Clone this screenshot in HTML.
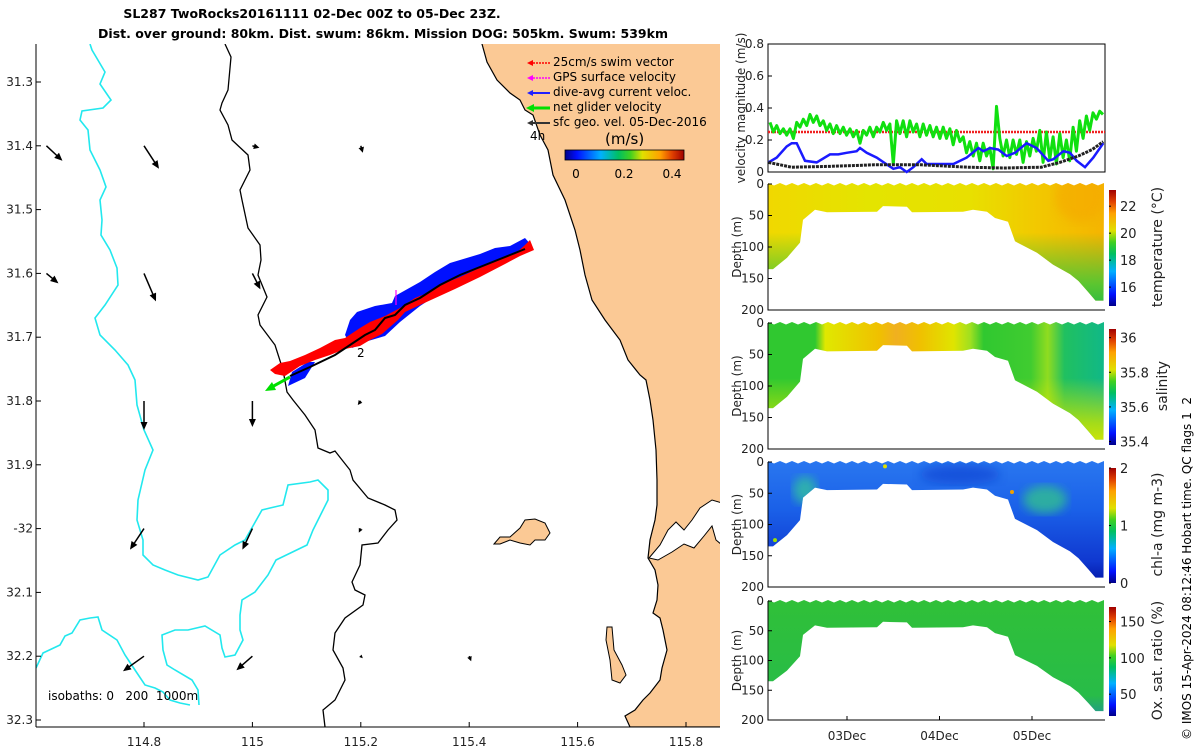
<!DOCTYPE html>
<html><head><meta charset="utf-8">
<style>
html,body{margin:0;padding:0;background:#fff;}
svg{display:block;font-family:"DejaVu Sans","Liberation Sans",sans-serif;}
</style></head>
<body>
<svg id="fig" width="1200" height="750" viewBox="0 0 1200 750">
<defs>
  <clipPath id="mapclip"><rect x="36" y="44" width="684" height="683"/></clipPath>
  <linearGradient id="jetV" x1="0" y1="1" x2="0" y2="0">
    <stop offset="0" stop-color="#00008a"/><stop offset="0.1" stop-color="#0010ff"/><stop offset="0.3" stop-color="#00b0ff"/>
    <stop offset="0.45" stop-color="#00c060"/><stop offset="0.55" stop-color="#40d020"/><stop offset="0.65" stop-color="#e0e000"/>
    <stop offset="0.8" stop-color="#ffa000"/><stop offset="0.9" stop-color="#e04000"/><stop offset="1" stop-color="#a00000"/>
  </linearGradient>
  <linearGradient id="jetH" x1="0" y1="0" x2="1" y2="0">
    <stop offset="0" stop-color="#00008a"/><stop offset="0.1" stop-color="#0010ff"/><stop offset="0.3" stop-color="#00b0ff"/>
    <stop offset="0.45" stop-color="#00c060"/><stop offset="0.55" stop-color="#40d020"/><stop offset="0.65" stop-color="#e0e000"/>
    <stop offset="0.8" stop-color="#ffa000"/><stop offset="0.9" stop-color="#e04000"/><stop offset="1" stop-color="#a00000"/>
  </linearGradient>
  <linearGradient id="gTempH" x1="0" y1="0" x2="1" y2="0">
    <stop offset="0" stop-color="#f0d800"/><stop offset="0.3" stop-color="#e4e400"/><stop offset="0.6" stop-color="#e8e000"/>
    <stop offset="0.8" stop-color="#f2c800"/><stop offset="1" stop-color="#f5b400"/>
  </linearGradient>
  <linearGradient id="gTempV" x1="0" y1="0" x2="0" y2="1">
    <stop offset="0" stop-color="#30c040" stop-opacity="0"/><stop offset="0.4" stop-color="#30c040" stop-opacity="0"/>
    <stop offset="0.8" stop-color="#40c838" stop-opacity="0.85"/><stop offset="1" stop-color="#20b848" stop-opacity="1"/>
  </linearGradient>
  <linearGradient id="gSalH" x1="0" y1="0" x2="1" y2="0">
    <stop offset="0" stop-color="#30c830"/><stop offset="0.14" stop-color="#30c830"/><stop offset="0.17" stop-color="#e0e800"/>
    <stop offset="0.33" stop-color="#f0c000"/><stop offset="0.38" stop-color="#f0b020"/><stop offset="0.45" stop-color="#f0c000"/>
    <stop offset="0.55" stop-color="#e0e400"/><stop offset="0.6" stop-color="#a0e020"/><stop offset="0.64" stop-color="#30c830"/>
    <stop offset="0.78" stop-color="#40cc30"/><stop offset="0.83" stop-color="#90dc20"/><stop offset="0.88" stop-color="#20c060"/>
    <stop offset="1" stop-color="#10b888"/>
  </linearGradient>
  <linearGradient id="gSalV" x1="0" y1="0" x2="0" y2="1">
    <stop offset="0" stop-color="#d8e800" stop-opacity="0"/><stop offset="0.45" stop-color="#d8e800" stop-opacity="0"/>
    <stop offset="0.8" stop-color="#c8e400" stop-opacity="0.8"/><stop offset="1" stop-color="#e0e800" stop-opacity="1"/>
  </linearGradient>
  <linearGradient id="gChlV" x1="0" y1="0" x2="0" y2="1">
    <stop offset="0" stop-color="#2a78f0"/><stop offset="0.4" stop-color="#1a60e8"/><stop offset="0.8" stop-color="#1038d0"/><stop offset="1" stop-color="#0010a0"/>
  </linearGradient>
  <linearGradient id="gOxV" x1="0" y1="0" x2="0" y2="1">
    <stop offset="0" stop-color="#30c038"/><stop offset="0.8" stop-color="#28bc48"/><stop offset="1" stop-color="#2090a0"/>
  </linearGradient>
  <filter id="blur4"><feGaussianBlur stdDeviation="5"/></filter>
</defs>

<text x="312" y="18" text-anchor="middle" font-family="DejaVu Sans, sans-serif" font-weight="bold" font-size="12.5">SL287 TwoRocks20161111 02-Dec 00Z to 05-Dec 23Z.</text>
<text x="383" y="38" text-anchor="middle" font-family="DejaVu Sans, sans-serif" font-weight="bold" font-size="12.5">Dist. over ground: 80km. Dist. swum: 86km. Mission DOG: 505km. Swum: 539km</text>

<g id="map">
 <g clip-path="url(#mapclip)">
  <polygon fill="#fbc995" stroke="#000" stroke-width="1.2" points="482,44 487,62 497,80 510,93 520,100 525,110 533,115 540,135 548,150 553,175 565,200 575,230 580,250 585,275 592,300 605,320 620,340 628,360 640,375 646,380 650,400 653,420 656,450 657,480 657,505 655,520 650,540 648,558 655,570 658,585 657,600 653,613 660,618 663,630 667,650 662,668 660,680 650,693 643,700 635,710 625,716 630,727 725,727 725,40 482,40"/>
  <polygon fill="#fff" stroke="#000" stroke-width="1" points="649,558 660,545 668,530 676,522 684,530 692,520 700,508 712,500 722,503 722,545 716,540 712,526 704,536 694,548 684,544 672,552 658,560"/>
  <polygon fill="#fbc995" stroke="#000" stroke-width="1" points="494,544 500,537 510,537 520,528 525,520 535,519 545,523 550,533 545,540 535,540 530,545 520,543 510,540 500,544"/>
  <polygon fill="#fbc995" stroke="#000" stroke-width="1" points="607,627 612,627 614,650 622,665 626,675 620,683 612,680 610,660 606,640"/>
  <polyline fill="none" stroke="#000" stroke-width="1.3" points="225,44 231,57 228,90 222,103 220,110 228,125 232,140 248,155 250,170 240,190 242,200 248,228 260,245 261,260 258,275 267,297 258,315 260,325 275,345 283,370 287,392 293,400 305,415 315,430 318,448 330,453 335,451 350,470 353,480 368,498 385,505 395,510 397,520 388,530 378,543 362,545 360,565 352,582 355,590 365,595 363,605 345,618 335,633 333,650 343,668 345,680 335,700 323,710 325,727"/>
  <polyline fill="none" stroke="#22e8ee" stroke-width="1.6" points="90,44 92,50 105,72 100,84 111,100 103,108 82,111 80,120 88,130 90,150 100,170 106,187 100,200 102,220 101,235 110,250 117,268 118,285 105,305 95,318 100,335 115,350 128,365 135,380 137,405 144,430 153,450 145,470 138,500 137,520 143,540 143,555 153,565 165,570 178,575 198,580 208,577 220,555 235,545 245,540 262,510 270,508 283,505 288,485 310,482 318,480 328,490 328,500 318,520 313,530 307,545 276,560 268,575 255,592 242,600 240,615 240,630 243,640 235,655 225,657 222,648 220,635 205,626 188,630 175,630 162,635 163,650 167,665 175,670 192,680 198,690 199,705"/>
  <polyline fill="none" stroke="#22e8ee" stroke-width="1.6" points="36,668 43,653 60,645 65,636 72,633 80,620 90,618 98,617 102,630 117,640 125,655 135,670 145,685 155,688 163,692 170,700 180,703 190,705"/>
  <polygon fill="#0010ff" points="345,335 350,320 357,312 375,306 392,303 395,296 420,282 435,272 450,263 480,254 495,248 510,246 525,238 532,246 500,262 470,276 440,293 420,306 400,322 385,336 368,341 352,348"/>
  <polygon fill="#0010ff" points="288,386 292,372 308,362 315,362 305,378"/>
  <polygon fill="#ff0000" points="270,370 280,363 290,361 305,355 320,348 335,340 345,338 360,328 370,322 385,316 400,308 415,298 430,292 445,283 460,277 475,270 490,264 505,256 515,254 525,245 530,240 534,250 520,256 505,264 480,277 455,289 420,305 405,312 398,320 382,334 370,340 360,346 345,349 330,355 315,360 300,366 285,376 275,374"/>
  <polyline fill="none" stroke="#000" stroke-width="2" points="290,376 310,367 335,355 350,345 365,335 375,330 385,318 395,315 405,305 420,298 440,285 460,275 485,265 510,255 525,249"/>
  <line x1="290" y1="377" x2="270" y2="388" stroke="#00e000" stroke-width="3"/>
  <polygon fill="#00e000" points="265,391 272,382 276,390"/>
  <line x1="396" y1="305" x2="396" y2="290" stroke="#ff00ff" stroke-width="1.2"/>
  <text x="357" y="357" font-size="12">2</text>
  <text x="530" y="140" font-size="12">4h</text>
  <g id="vecs"></g>
 </g>
 <line x1="36" y1="44" x2="36" y2="727" stroke="#000"/>
 <line x1="36" y1="727" x2="720" y2="727" stroke="#000"/>
 <g id="mapticks"></g>
 <text x="48" y="700" font-size="12">isobaths: 0&#160;&#160;&#160;200&#160;&#160;1000m</text>
 <g font-size="12">
  <line x1="530" y1="63" x2="550" y2="63" stroke="#ff0000" stroke-dasharray="2,1" stroke-width="1.5"/><polygon points="527,63 533,60 533,66" fill="#ff0000"/>
  <text x="553" y="66">25cm/s swim vector</text>
  <line x1="530" y1="78" x2="550" y2="78" stroke="#ff00ff" stroke-dasharray="2,1" stroke-width="1.5"/><polygon points="527,78 533,75 533,81" fill="#ff00ff"/>
  <text x="553" y="81">GPS surface velocity</text>
  <line x1="530" y1="93" x2="550" y2="93" stroke="#2020ff" stroke-width="2"/><polygon points="527,93 533,90 533,96" fill="#2020ff"/>
  <text x="553" y="96">dive-avg current veloc.</text>
  <line x1="530" y1="108" x2="550" y2="108" stroke="#00e000" stroke-width="3"/><polygon points="526,108 534,104 534,112" fill="#00e000"/>
  <text x="553" y="111">net glider velocity</text>
  <line x1="530" y1="123" x2="550" y2="123" stroke="#333" stroke-width="2"/><polygon points="527,123 533,120 533,126" fill="#333"/>
  <text x="553" y="126">sfc geo. vel. 05-Dec-2016</text>
  <text x="605" y="144" font-size="15">(m/s)</text>
  <rect x="565" y="150" width="119" height="10" fill="url(#jetH)" stroke="#000" stroke-width="0.8"/>
  <text x="576" y="178" text-anchor="middle">0</text>
  <text x="624" y="178" text-anchor="middle">0.2</text>
  <text x="672" y="178" text-anchor="middle">0.4</text>
 </g>
</g>

<g id="vel"></g>
<g id="secs"></g>
<text transform="translate(1191,740) rotate(-90)" font-size="12">© IMOS 15-Apr-2024 08:12:46 Hobart time. QC flags 1&#160;&#160;2</text>
</svg>

<script>
// ---------- data ----------
var mapLonTicks = [114.8, 115, 115.2, 115.4, 115.6, 115.8];
var mapLonLabels = ['114.8','115','115.2','115.4','115.6','115.8'];
var mapLatTicks = [31.3, 31.4, 31.5, 31.6, 31.7, 31.8, 31.9, 32.0, 32.1, 32.2, 32.3];
var mapLatLabels = ['31.3','31.4','31.5','31.6','31.7','31.8','31.9','-32','32.1','32.2','32.3'];
var vecLon = [114.62,114.8,115,115.2,114.62,114.8,115,114.8,115,115.2,114.8,115,115.2,114.8,115,115.2,115.4];
var vecLat = [31.4,31.4,31.4,31.4,31.6,31.6,31.6,31.8,31.8,31.8,32.0,32.0,32.0,32.2,32.2,32.2,32.2];
var vecU = [0.16,0.15,0.07,0.02,0.12,0.12,0.08,0.0,0.0,-0.03,-0.14,-0.10,-0.02,-0.21,-0.16,0.02,0.02];
var vecV = [-0.15,-0.23,-0.02,-0.07,-0.10,-0.28,-0.16,-0.29,-0.26,-0.04,-0.21,-0.21,-0.04,-0.15,-0.14,-0.02,-0.05];

var velTicks = [0, 0.2, 0.4, 0.6, 0.8];
var dayTicks = [1, 2, 3];
var dayLabels = ['03Dec','04Dec','05Dec'];
var greenStart = 0.168, greenStep = 0.036;
var greenV = [.31,.25,.29,.24,.27,.23,.27,.21,.31,.28,.33,.29,.36,.31,.35,.29,.32,.26,.30,.24,.29,.24,.28,.23,.27,.22,.26,.18,.26,.23,.28,.22,.28,.25,.31,.26,.30,.05,.32,.24,.32,.22,.32,.25,.30,.22,.30,.23,.29,.22,.28,.21,.28,.21,.27,.17,.26,.19,.22,.12,.19,.10,.18,.07,.18,.10,.15,.02,.41,.21,.10,.20,.09,.20,.11,.20,.06,.19,.10,.21,.13,.26,.06,.25,.08,.22,.05,.24,.09,.20,.07,.28,.13,.32,.21,.35,.26,.37,.33,.38,.36];
var blueT = [0.150,0.240,0.348,0.402,0.456,0.546,0.672,0.816,0.906,0.996,1.105,1.141,1.213,1.321,1.501,1.573,1.645,1.717,1.808,1.862,2.150,2.294,2.420,2.474,2.546,2.636,2.726,2.816,2.942,3.050,3.176,3.230,3.338,3.411,3.483,3.573,3.663,3.771];
var blueV = [0.06,0.09,0.16,0.18,0.18,0.07,0.06,0.11,0.11,0.12,0.13,0.15,0.12,0.09,0.02,0.03,0.0,0.03,0.08,0.05,0.05,0.09,0.15,0.13,0.15,0.14,0.10,0.12,0.18,0.15,0.07,0.08,0.13,0.12,0.07,0.03,0.09,0.18];
var blackT = [0.15,0.4,0.8,1.3,1.8,2.3,2.7,3.1,3.3,3.5,3.65,3.77];
var blackV = [0.06,0.03,0.035,0.045,0.045,0.03,0.025,0.03,0.06,0.10,0.14,0.19];
var swimV = 0.25;

var bottomT = [0.132,0.2,0.351,0.492,0.524,0.654,0.784,1.324,1.389,1.648,1.703,2.254,2.362,2.514,2.600,2.741,2.816,3.054,3.227,3.411,3.503,3.611,3.687,3.773];
var bottomD = [135,135,117,93,57,41,45,44,35,36,45,44,41,44,54,60,91,109,128,143,154,172,185,185];
var depthTicks = [0, 50, 100, 150, 200];
var tempTicks = [16, 18, 20, 22], tempRange = [14.6, 23.2];
var salTicks = [35.4, 35.6, 35.8, 36.0], salLabels = ['35.4','35.6','35.8','36'], salRange = [35.38, 36.05];
var chlTicks = [0, 1, 2], chlRange = [0, 2];
var oxTicks = [50, 100, 150], oxRange = [20, 170];

// ---------- helpers ----------
var NS = 'http://www.w3.org/2000/svg';
function mk(tag, attrs, parent){ var e=document.createElementNS(NS,tag); for(var k in attrs) e.setAttribute(k,attrs[k]); parent.appendChild(e); return e; }
function txt(s, attrs, parent){ var e=mk('text',attrs,parent); e.textContent=s; return e; }
function lonX(l){ return 144 + (l-114.8)*542; }
function latY(l){ return 401 + (l-31.8)*638; }

// ---------- map ticks ----------
var mt = document.getElementById('mapticks');
mapLonTicks.forEach(function(l,i){
  var x=lonX(l);
  var t=mk('line',{x1:x,y1:727,x2:x,y2:722,stroke:'#000'},mt);
  
  
  var lb=txt(mapLonLabels[i],{x:x,y:746,'text-anchor':'middle','font-size':12,fill:'#222'},mt);
  
  
});
mapLatTicks.forEach(function(l,i){
  var y=latY(l);
  var t=mk('line',{x1:36,y1:y,x2:41,y2:y,stroke:'#000'},mt);
  
  
  var lb=txt(mapLatLabels[i],{x:33,y:y+4,'text-anchor':'end','font-size':12,fill:'#222'},mt);
  
  
});

// ---------- vectors ----------
var vg=document.getElementById('vecs');
vecLon.forEach(function(l,i){
  var x0=lonX(l), y0=latY(vecLat[i]);
  var x1=x0+vecU[i]*100, y1=y0-vecV[i]*100;
  var dx=x1-x0, dy=y1-y0, L=Math.sqrt(dx*dx+dy*dy)||1, ux=dx/L, uy=dy/L;
  var ln=mk('line',{x1:x0,y1:y0,x2:x1-ux*3,y2:y1-uy*3,stroke:'#000','stroke-width':1.5},vg);
  
  
  var h=Math.min(8,L*0.5+2), w=Math.min(3.5,L*0.25+1);
  var p=[x1,y1, x1-ux*h-uy*w, y1-uy*h+ux*w, x1-ux*h+uy*w, y1-uy*h-ux*w].join(',');
  var hd=mk('polygon',{points:p,fill:'#000'},vg);
  
  
});

// ---------- velocity panel ----------
var X0=768, X1=1105;
function dayX(t){ return 754.5 + t*92.5; }
var vp=document.getElementById('vel');
function vy(v){ return 172 - v*160; }
var box=mk('rect',{x:X0,y:44,width:X1-X0,height:128,fill:'#fff',stroke:'#000','stroke-width':1},vp);


velTicks.forEach(function(v){
  var t=mk('line',{x1:X0,y1:vy(v),x2:X0+4,y2:vy(v),stroke:'#000'},vp);
  
  
  var lb=txt(String(v),{x:X0-4,y:vy(v)+4,'text-anchor':'end','font-size':12,fill:'#222'},vp);
  
  
});
var yl=txt('velocity magnitude (m/s)',{transform:'translate(745,108) rotate(-90)','text-anchor':'middle','font-size':12,fill:'#222'},vp);


var sw=mk('line',{x1:X0,y1:vy(swimV),x2:X1,y2:vy(swimV),stroke:'#f02020','stroke-width':2.5,'stroke-dasharray':'2,1'},vp);


var gp=greenV.map(function(v,i){ return Math.min(X1,dayX(greenStart+i*greenStep)).toFixed(1)+','+vy(v).toFixed(1); }).join(' ');
var gl=mk('polyline',{points:gp,fill:'none',stroke:'#10e010','stroke-width':3,'stroke-linejoin':'round'},vp);


var bp=blueT.map(function(t,i){ return Math.min(X1,dayX(t)).toFixed(1)+','+vy(blueV[i]).toFixed(1); }).join(' ');
var bl=mk('polyline',{points:bp,fill:'none',stroke:'#1a1aff','stroke-width':2.5},vp);


var kp=blackT.map(function(t,i){ return Math.min(X1,dayX(t)).toFixed(1)+','+vy(blackV[i]).toFixed(1); }).join(' ');
var kl=mk('polyline',{points:kp,fill:'none',stroke:'#222','stroke-width':3,'stroke-dasharray':'3,1'},vp);



// ---------- sections ----------
var sp=document.getElementById('secs');
var panels=[
 {top:184,h:126,fill:'gTempH',over:'gTempV',name:'temperature',label:'temperature (°C)',ticks:tempTicks,tl:tempTicks.map(String),range:tempRange},
 {top:323,h:126,fill:'gSalH',over:'gSalV',name:'salinity',label:'salinity',ticks:salTicks,tl:salLabels,range:salRange},
 {top:462,h:125,fill:'gChlV',over:null,name:'chlorophyll',label:'chl-a (mg m-3)',ticks:chlTicks,tl:chlTicks.map(String),range:chlRange},
 {top:601,h:119,fill:'gOxV',over:null,name:'oxygen',label:'Ox. sat. ratio (%)',ticks:oxTicks,tl:oxTicks.map(String),range:oxRange}
];
panels.forEach(function(P,pi){
  var g=mk('g',{},sp);
  
  
  function dy(d){ return P.top + d*P.h/200; }
  var pts=[];
  for(var x=X0; x<=X1; x+=6){ pts.push(x+','+(dy(0)+((x/6)%2?1.5:-1))); }
  for(var i=bottomT.length-1;i>=0;i--){ pts.push(Math.min(X1,Math.max(X0,dayX(bottomT[i]))).toFixed(1)+','+dy(bottomD[i]).toFixed(1)); }
  var cid='clip'+pi;
  var cp=mk('clipPath',{id:cid},g);
  mk('polygon',{points:pts.join(' ')},cp);
  var cg=mk('g',{'clip-path':'url(#'+cid+')'},g);
  var r=mk('rect',{x:X0,y:P.top-3,width:X1-X0,height:P.h+3,fill:'url(#'+P.fill+')'},cg);
  
  
  if(P.over){ mk('rect',{x:X0,y:P.top-3,width:X1-X0,height:P.h+3,fill:'url(#'+P.over+')'},cg); }
  if(pi===2){
    mk('ellipse',{cx:805,cy:dy(45),rx:12,ry:14,fill:'#30c0a0',filter:'url(#blur4)',opacity:0.8},cg);
    mk('ellipse',{cx:1045,cy:dy(60),rx:22,ry:14,fill:'#30c090',filter:'url(#blur4)',opacity:0.8},cg);
    mk('ellipse',{cx:960,cy:dy(20),rx:40,ry:10,fill:'#1040d0',filter:'url(#blur4)',opacity:0.6},cg);
    mk('circle',{cx:885,cy:dy(7),r:2,fill:'#e0e000'},cg);
    mk('circle',{cx:1012,cy:dy(48),r:2,fill:'#f0a000'},cg);
    mk('circle',{cx:775,cy:dy(125),r:2,fill:'#a0e000'},cg);
  }
  if(pi===0){
    mk('ellipse',{cx:1080,cy:dy(20),rx:25,ry:25,fill:'#f5a800',filter:'url(#blur4)',opacity:0.6},cg);
  }
  var ax=mk('polyline',{points:X0+','+P.top+' '+X0+','+(P.top+P.h)+' '+X1+','+(P.top+P.h),fill:'none',stroke:'#000'},g);
  
  
  depthTicks.forEach(function(d){
    var t=mk('line',{x1:X0,y1:dy(d),x2:X0+4,y2:dy(d),stroke:'#000'},g);
    
    
    var lb=txt(String(d),{x:X0-4,y:dy(d)+4,'text-anchor':'end','font-size':12,fill:'#222'},g);
    
    
  });
  var dl=txt('Depth (m)',{transform:'translate(741,'+(P.top+P.h/2)+') rotate(-90)','text-anchor':'middle','font-size':12,fill:'#222'},g);
  
  
  var cbT=P.top+6, cbH=P.h-10;
  var cb=mk('rect',{x:1109,y:cbT,width:7,height:cbH,fill:'url(#jetV)'},g);
  
  
  P.ticks.forEach(function(v,i){
    var y=cbT+cbH-(v-P.range[0])/(P.range[1]-P.range[0])*cbH;
    mk('line',{x1:1109,y1:y,x2:1111,y2:y,stroke:'#000'},g);
    var lb=txt(P.tl[i],{x:1120,y:y+5,'font-size':13,fill:'#222'},g);
    
    
  });
  var cl=txt(P.label,{transform:'translate('+(pi===1?1167:1162)+','+(P.top+P.h/2)+') rotate(-90)','text-anchor':'middle','font-size':14,fill:'#222'},g);
  
  
});
dayTicks.forEach(function(d,i){
  var x=dayX(d);
  var t=mk('line',{x1:x,y1:720,x2:x,y2:716,stroke:'#000'},sp);
  
  
  var lb=txt(dayLabels[i],{x:x,y:740,'text-anchor':'middle','font-size':12,fill:'#222'},sp);
  
  
});
</script>
</body></html>
